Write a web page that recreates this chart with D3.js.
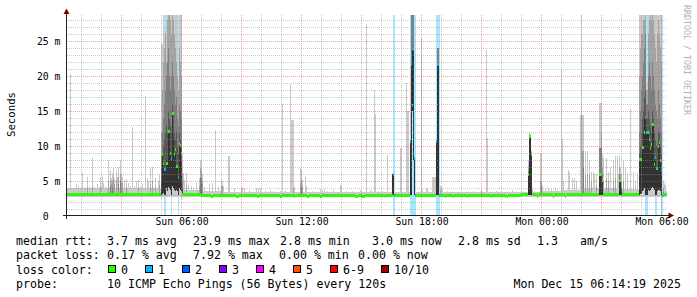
<!DOCTYPE html>
<html><head><meta charset="utf-8">
<script src="https://cdn.jsdelivr.net/npm/d3@7"></script>
<style>
html,body{margin:0;padding:0;background:#fff;}
svg{display:block;}
text{font-family:"DejaVu Sans Mono",monospace;white-space:pre;}
</style></head><body>
<svg id="chart" width="697" height="297"></svg>
<script>
// ================= DATA =================
// time in hours since Sun Dec 14 2025 00:00, one RRD row = 0.05 h (3 min)
const yTop = 28.714;                       // upper limit of the value axis (ms)
const yTickValues = [0, 5, 10, 15, 20, 25];
const smokeFloor = 2.8;                    // lowest ping level (ms)

// hourly baseline (hour 0 .. 30)
const baseMedian = [3.1,3.1,3.1,3.1,3.1,3.1, 3.1,3.05,3.05,3.05,3.0,3.0, 3.0,3.0,3.0,3.0,3.0,3.05,
                    3.05,3.05,3.05,3.05,3.05,3.1, 3.1,3.1,3.1,3.1,3.1,3.1,3.1];
const baseTop    = [4.0,4.0,4.1,4.1,4.1,4.0, 3.8,3.6,3.5,3.45,3.45,3.45, 3.45,3.45,3.45,3.45,3.45,3.45,
                    3.45,3.45,3.45,3.45,3.45,3.5, 3.7,3.8,4.0,4.0,3.9,3.7,3.6];
// short dips of the median
const dips = [[7.5,2.85],[7.55,2.85],[8.75,2.85],[8.8,2.85],[8.85,2.85],[9.8,2.85],[9.85,2.85],
  [10.95,2.85],[11.0,2.85],[11.65,2.85],[12.3,2.85],[12.35,2.85],[12.95,2.85],[13.0,2.85],
  [14.7,2.85],[14.75,2.85],[14.8,2.85],[15.05,2.85],[15.1,2.85],[15.15,2.85],[16.2,2.85],
  [19.2,2.85],[19.6,2.85],[20.3,2.85],[21.5,2.85],[22.2,2.85],[22.3,2.85],[23.8,2.85],[24.6,2.85],[25.2,2.85]];

// smoke-only spikes: [hour, top of pair1 (max ping), pair2, pair3, pair4, pair5]
const spikes = [
 [0.45,20.3],[0.55,4.0],[0.75,4.6],[0.85,4.3],[1.05,6.2],[1.15,4.2],[1.30,5.6,4.2],[1.40,4.4],
 [1.55,8.4,4.5],[1.65,4.2],[1.80,4.6],[1.95,5.6,4.4],[2.05,5.8],[2.10,4.8],[2.20,4.4],[2.35,8.0,5.0],
 [2.45,6.7,5.2,4.4],[2.50,5.5,4.8],[2.55,6.2,5.0,4.2],[2.60,6.9,5.6],[2.65,5.4,4.6],[2.75,6.6,5.2],
 [2.80,5.6],[2.85,7.0,5.6,4.6],[2.95,8.1,6.0,5.0],[3.00,6.0,4.8],[3.05,5.6,4.8],[3.15,5.2],
 [3.25,5.4,4.4],[3.35,4.8],[3.45,4.3],[3.55,12.8],[3.65,4.4],[3.75,5.0],[3.85,5.2,4.2],[3.95,4.2],
 [4.05,4.6],[4.20,17.2],[4.30,5.5],[4.35,5.0],[4.45,6.9,4.6],[4.55,7.1,5.0],[4.70,5.5,4.4],
 [4.85,5.0],[4.90,6.0,4.5],
 [6.10,6.2],[6.15,5.2],[6.25,6.2,4.5],[6.35,4.5],[6.50,4.4],[6.60,4.0],[6.75,4.8],[6.90,5.5,4.4],
 [6.95,8.0,6.9,5.5],[7.00,7.9,6.5,5.5,4.6],[7.05,6.0,5.0],[7.15,4.2],[7.40,4.6],[7.55,4.8],
 [7.70,12.4],[7.85,4.2],[8.00,5.3,4.3],[8.05,5.0,4.4],[8.10,4.3],[8.35,8.6],[8.40,8.6],[8.65,4.0],
 [9.00,4.0],[9.05,4.2],[9.15,4.0],[9.40,3.8],[9.75,4.0],[9.85,4.0],[9.95,4.0],[10.20,3.7],
 [10.45,3.8],[10.60,3.7],[10.95,3.6],[11.05,16.0],[11.20,3.8],[11.45,18.9],[11.50,13.8],
 [11.55,13.8],[11.60,13.8,4.0],[11.65,4.2],[11.95,6.9,4.8],[12.00,6.6,5.2,4.2],[12.05,5.2,4.3],
 [12.20,5.7],[12.25,4.4],[12.55,3.7],[12.95,3.9],[13.05,3.8],[13.15,3.9],[13.30,3.7],[13.60,3.8],
 [13.95,4.5],[14.00,4.4],[14.25,3.7],[14.55,3.6],[14.95,3.8],[15.25,27.5],[15.45,3.8],[15.50,3.7],
 [15.65,18.1],[15.70,14.6],[15.85,3.6],[16.05,3.7],[16.30,8.8],[16.45,3.5],
 [16.55,6.0,6.0,6.0,6.0,6.0],
 [16.95,9.8],[17.00,9.8],[17.25,19.0],[17.30,15.0],[17.35,15.0],
 [18.00,25.5],[18.05,3.8],[18.25,4.0],[18.30,3.9],[18.55,5.7],[18.60,5.7],[18.65,5.7],[18.70,5.7],
 [18.95,4.3,3.8],[19.00,4.3],[19.05,4.0],[19.30,3.6],[19.85,3.5],[19.95,3.5],[20.25,3.5],
 [20.60,3.6],[21.00,3.8,3.6],[21.25,23.8],[21.30,11.2],[21.75,3.6],[22.55,3.8],[23.00,3.6],
 [23.05,3.5],[23.55,4.0],[23.65,3.7],[23.95,9.0,5.0],[24.00,9.0,5.0,4.2],[24.05,4.5],[24.20,4.0],
 [24.35,4.0],[24.50,3.9],[24.70,4.0],[24.80,3.8],[25.00,21.0],[25.05,11.0],[25.10,5.0],
 [25.35,6.7],[25.40,6.4],[25.55,5.5],[25.65,5.5],[25.75,5.0],[25.95,14.5],[26.00,30,14.5],
 [26.05,14.5,9.3],[26.10,14.5,9.3,7.0],[26.20,9.3,6.0],[26.30,9.3,6.0],[26.40,8.0,6.0],
 [26.50,6.4,5.0],[26.60,6.4],[26.65,6.0],[26.75,6.0,4.5],[27.10,8.3,5.0],[27.25,8.3,5.5],
 [27.35,6.4,5.0],[27.45,7.0],[27.60,7.9,5.0],[27.70,8.6,5.5],[27.80,8.6],[27.85,6.0],
 [28.10,7.9,5.0],[28.20,7.0],[28.30,6.0],[28.45,15.5],[28.60,6.4],[28.70,5.0],[28.80,6.0],
 [30.15,4.8],[30.20,4.5]
];

// rows with a shifted median and/or lost pings:
// [hour, median, lost pings, top pair1..pair5, bottom pair1, bottom pairs2-5]
const bursts = [
 [5.00, 8.8,0, 24.6,12,9,7,5, 2.8,3.0],
 [5.05, 8.8,0, 24.6,18,12,9,8.8, 2.8,3.2],
 [5.10, 7.5,0, 30,22,14,10,7.5, 2.8,3.4],
 [5.15, 6.7,1, 26.7,24,16,11,6.7, 2.8,3.0],
 [5.20, 6.7,1, 26.7,26,18,12,7.0, 2.8,3.0],
 [5.25, 7.6,0, 30,22,20,13,8.0, 2.8,4.0],
 [5.30, 7.6,0, 30,28,22,12,8.0, 2.8,3.6],
 [5.35,12.1,0, 30,30,24,15,12.1, 2.8,4.2],
 [5.40,12.1,0, 30,30,20,14,12.1, 2.8,4.0],
 [5.45, 9.0,0, 30,28,18,13,9.0, 2.8,3.8],
 [5.50, 8.3,1, 30,26,20,12,8.3, 2.8,3.0],
 [5.55,14.7,0, 30,30,22,16,14.7, 2.8,4.4],
 [5.60,14.7,0, 30,28,20,15,11.0, 2.8,4.0],
 [5.65, 8.8,0, 30,26,18,12,8.8, 2.8,3.8],
 [5.70, 9.5,0, 30,24,16,11,9.0, 2.8,3.6],
 [5.75, 7.2,0, 30,22,17,12,7.2, 2.8,3.8],
 [5.80, 7.2,0, 30,20,14,10,7.2, 2.8,3.6],
 [5.85, 5.5,1, 19.5,18,13,9,5.5, 2.8,3.0],
 [5.90,10.4,0, 30,24,16,12,10.4, 2.8,4.0],
 [5.95,10.1,0, 30,22,15,11,10.1, 2.8,3.8],
 [6.00, 9.0,0, 30,20,14,10,8.0, 2.8,3.6],
 [6.05, 3.2,0, 9,6,5,4,3.5, 2.8,2.9],
 [16.60, 6.0,1, 6.0,6.0,6.0,6.0,6.0, 2.8,3.0],
 [16.65, 3.05,1, 3.0,3.0,3.0,3.0,3.0, 2.8,2.8],
 [17.45,10.7,1, 22,10.7,10.7,10.7,10.7, 2.8,3.0],
 [17.50,21.7,1, 30,30,30,21.7,21.7, 2.8,3.0],
 [17.55,15.9,1, 30,30,30,23.8,23.8, 15.0,15.0],
 [17.60,23.8,1, 30,30,30,23.8,23.8, 8.0,8.0],
 [17.65, 8.3,1, 8.3,8.3,8.3,8.3,8.3, 2.8,3.0],
 [17.70, 3.05,1, 3.0,3.0,3.0,3.0,3.0, 2.8,2.8],
 [18.75,10.7,1, 10.7,10.7,10.7,10.7,10.7, 2.8,3.0],
 [18.80,21.7,1, 24.1,24.1,24.1,21.7,21.7, 2.8,3.0],
 [18.85,21.7,1, 24.1,24.1,24.1,21.7,21.7, 2.8,3.0],
 [18.90, 3.05,1, 3.0,3.0,3.0,3.0,3.0, 2.8,2.8],
 [23.35, 6.0,0, 8,7,6.5,6.0,6.0, 2.8,3.0],
 [23.40,11.4,0, 12,11.8,11.6,11.4,11.4, 2.8,3.0],
 [23.45,11.4,0, 11.6,11.5,11.4,11.4,11.4, 2.8,3.0],
 [23.50, 8.8,0, 9.5,9.2,9.0,8.8,8.8, 2.8,3.0],
 [26.90, 6.0,0, 16.2,9.8,9.8,6.0,6.0, 2.8,3.0],
 [26.95, 6.0,0, 16.2,9.8,9.8,6.0,6.0, 2.8,3.0],
 [27.00, 6.0,0, 16.2,12,9.8,6.0,6.0, 2.8,3.0],
 [27.05, 5.1,0, 9.0,7.0,6.0,5.1,5.1, 2.8,3.0],
 [27.90, 5.1,0, 8.6,7.0,6.0,5.1,5.1, 2.8,3.0],
 [27.95, 5.1,0, 7.0,6.0,5.5,5.1,5.1, 2.8,3.0],
 [28.00, 4.4,0, 6.0,5.0,4.6,4.4,4.4, 2.8,3.0],
 [28.90, 8.1,0, 30,20,12,9,8.1, 2.8,3.0],
 [28.95, 8.1,0, 30,24,15,10,8.1, 2.8,3.2],
 [29.00, 8.1,0, 30,26,18,12,9, 2.8,3.4],
 [29.05, 9.8,0, 30,26,20,14,10, 2.8,3.6],
 [29.10, 9.8,0, 30,28,22,15,12, 2.8,3.8],
 [29.15,12.0,0, 30,28,24,17,14, 2.8,4.0],
 [29.20,14.1,1, 30,30,26,18,14.1, 2.8,3.0],
 [29.25,12.0,1, 19,18,16,14,12, 2.8,3.0],
 [29.30,12.0,1, 19,18,16,14,12, 2.8,3.0],
 [29.35,12.0,0, 30,26,20,15,12, 2.8,3.8],
 [29.40,11.0,0, 30,28,22,14,11, 2.8,3.6],
 [29.45, 9.7,0, 30,30,20,13,9.7, 2.8,3.8],
 [29.50,10.3,0, 30,28,18,12,10.3, 2.8,4.0],
 [29.55,13.1,0, 30,30,22,15,13.1, 2.8,4.2],
 [29.60,13.1,0, 30,28,20,14,13, 2.8,4.0],
 [29.65, 7.4,0, 30,26,18,12,8, 2.8,3.8],
 [29.70, 8.4,1, 30,24,16,11,8.4, 2.8,3.0],
 [29.75, 6.9,1, 30,22,15,10,6.9, 2.8,3.0],
 [29.80, 6.9,0, 30,26,14,10,7, 2.8,3.6],
 [29.85,10.0,0, 30,28,18,12,10, 2.8,3.8],
 [29.90,10.5,0, 30,26,16,12,10.5, 2.8,3.8],
 [29.95, 8.0,0, 30,24,14,10,8, 2.8,3.6],
 [30.00, 6.6,1, 30,22,12,9,6.6, 2.8,3.0],
 [30.05, 3.05,1, 3.0,3.0,3.0,3.0,3.0, 2.8,2.8],
 [30.10, 3.05,0, 5,4,3.5,3.2,3.1, 2.8,2.8]
];

const lossLabels = ["0","1","2","3","4","5","6-9","10/10"];
const lossColors = ["#26ff00","#00b8ff","#0059ff","#7e00ff","#ff00ff","#ff5500","#ff0000","#a10000"];
const smokeColors = ["#cacaca","#a4a4a4","#7e7e7e","#585858","#323232"];

const legendMedian = ["median rtt:","3.7 ms avg","23.9 ms max","2.8 ms min","3.0 ms now","2.8 ms sd","1.3","am/s"];
const legendLoss = ["packet loss:","0.17 % avg","7.92 % max","0.00 % min","0.00 % now"];
const legendColorTitle = "loss color:";
const legendProbe = ["probe:","10 ICMP Echo Pings (56 Bytes) every 120s"];
const legendDate = "Mon Dec 15 06:14:19 2025";
const yLabel = "Seconds";
const watermark = "RRDTOOL / TOBI OETIKER";

// ================= LAYOUT =================
const svg = d3.select("#chart");
const plotL = 67, plotR = 667, plotT = 15, plotB = 215;
const baseMs = new Date(2025, 11, 14, 0, 0, 0).getTime();
const t = h => new Date(baseMs + h * 3600e3);
const xs = d3.scaleTime().domain([t(0.25), t(30.25)]).range([66.5, 666.5]);
const ys = d3.scaleLinear().domain([0, yTop]).range([216.5, 15.5]);

svg.append("rect").attr("width", 697).attr("height", 297).attr("fill", "#fff");
svg.append("defs").append("clipPath").attr("id", "plot")
  .append("rect").attr("x", plotL).attr("y", plotT).attr("width", plotR - plotL).attr("height", plotB - plotT);

// build rows
const burstMap = new Map(bursts.map(r => [Math.round(r[0] * 20), r]));
const spikeMap = new Map(spikes.map(r => [Math.round(r[0] * 20), r]));
const dipMap = new Map(dips.map(r => [Math.round(r[0] * 20), r[1]]));
const lossBucket = l => l <= 5 ? l : (l < 10 ? 6 : 7);
const rows = [];
for (let k = 6; k <= 605; k++) {
  const h = k / 20, hr = Math.min(30, Math.floor(h));
  let med = dipMap.has(k) ? dipMap.get(k) : baseMedian[hr];
  let loss = 0, hi, lo;
  if (burstMap.has(k)) {
    const r = burstMap.get(k);
    med = r[1]; loss = r[2]; hi = r.slice(3, 8); lo = [r[8], r[9], r[9], r[9], r[9]];
  } else {
    hi = [baseTop[hr], med, med, med, med];
    lo = [smokeFloor, med, med, med, med];
    const s = spikeMap.get(k);
    if (s) for (let i = 1; i < s.length; i++) {
      hi[i - 1] = Math.max(hi[i - 1], s[i]);
      if (i > 1) lo[i - 1] = smokeFloor + 0.2;
    }
  }
  rows.push({h, med, loss, hi, lo});
}

const plot = svg.append("g").attr("clip-path", "url(#plot)").attr("shape-rendering", "crispEdges");
const colX = d => xs(t(d.h)) - 0.5;

// loss background
plot.append("g").selectAll("rect").data(rows.filter(d => d.loss > 0)).join("rect")
  .attr("x", colX).attr("width", 1).attr("y", plotT).attr("height", plotB - plotT)
  .attr("fill", d => lossColors[lossBucket(d.loss)]).attr("fill-opacity", 0.35);

// smoke
smokeColors.forEach((c, i) => {
  plot.append("g").selectAll("rect")
    .data(rows.filter(d => d.hi[i] > d.lo[i]))
    .join("rect")
    .attr("x", colX).attr("width", 1)
    .attr("y", d => ys(d.hi[i])).attr("height", d => ys(d.lo[i]) - ys(d.hi[i]))
    .attr("fill", c);
});

// median band coloured by loss
plot.append("g").selectAll("rect").data(rows).join("rect")
  .attr("x", colX).attr("width", 1)
  .attr("y", d => ys(d.med) - 1.5).attr("height", 3)
  .attr("fill", d => lossColors[lossBucket(d.loss)]);

// grid (on top, semi transparent)
const grid = svg.append("g").attr("shape-rendering", "crispEdges").attr("stroke-dasharray", "1,1");
const hours = d3.timeHour.every(1).range(t(0.25), t(30.25));
grid.selectAll("line.vx").data(hours).join("line")
  .attr("x1", d => xs(d)).attr("x2", d => xs(d)).attr("y1", plotT).attr("y2", plotB)
  .attr("stroke", d => d.getHours() % 3 === 0 ? "rgba(222,80,80,0.5)" : "rgba(150,150,150,0.5)");
grid.selectAll("line.hy").data(d3.range(1, Math.floor(yTop) + 1)).join("line")
  .attr("x1", plotL).attr("x2", plotR).attr("y1", d => ys(d)).attr("y2", d => ys(d))
  .attr("stroke", d => d % 5 === 0 ? "rgba(222,80,80,0.5)" : "rgba(150,150,150,0.5)");

// axes lines and arrows
const ax = svg.append("g").attr("shape-rendering", "crispEdges");
ax.append("line").attr("x1", 66.5).attr("x2", 66.5).attr("y1", 219).attr("y2", 11).attr("stroke", "#222");
ax.append("line").attr("x1", 63).attr("x2", 670).attr("y1", 215.5).attr("y2", 215.5).attr("stroke", "#222");
svg.append("path").attr("d", "M66.5,8.5L63.5,14L69.5,14Z").attr("fill", "#7f0000");
svg.append("path").attr("d", "M674,215.5L668.5,212.5L668.5,218.5Z").attr("fill", "#7f0000");

// x axis labels
const xAxis = d3.axisBottom(xs).ticks(d3.timeHour.every(6))
  .tickFormat(d3.timeFormat("%a %H:%M")).tickSize(0).tickPadding(0);
const gx = svg.append("g").attr("transform", "translate(0,218)").call(xAxis);
gx.select(".domain").remove();
gx.selectAll("text").attr("font-family", "DejaVu Sans Mono").attr("font-size", "9.8px").attr("fill", "#000");

// y axis labels
const yAxis = d3.axisLeft(ys).tickValues(yTickValues)
  .tickFormat(v => v === 0 ? "0  " : v + " m").tickSize(0).tickPadding(0);
const gy = svg.append("g").attr("transform", "translate(60.5,0)").call(yAxis);
gy.select(".domain").remove();
gy.selectAll("text").attr("font-family", "DejaVu Sans Mono").attr("font-size", "9.8px").attr("fill", "#000")
  .style("white-space", "pre");

// y title
svg.append("text").attr("transform", "translate(11,114.5) rotate(-90)")
  .attr("text-anchor", "middle").attr("dominant-baseline", "central")
  .attr("font-size", "10.7px").attr("fill", "#000").text(yLabel);

// watermark
svg.append("text").attr("transform", "translate(686.5,5) rotate(90)")
  .attr("dominant-baseline", "central").attr("font-size", "8.3px").attr("fill", "#b0b0b0").text(watermark);

// legend
const lf = "11.6px";
const row1X = [16, 107, 193, 280, 372, 458, 537, 580];
const row2X = [16, 107, 193, 279, 358];
const lg = svg.append("g").attr("font-size", lf).attr("fill", "#000");
lg.selectAll("text.r1").data(legendMedian).join("text").attr("class", "r1")
  .attr("x", (d, i) => row1X[i]).attr("y", 244.5).text(d => d);
lg.selectAll("text.r2").data(legendLoss).join("text").attr("class", "r2")
  .attr("x", (d, i) => row2X[i]).attr("y", 259).text(d => d);
lg.append("text").attr("x", 16).attr("y", 273.5).text(legendColorTitle);
let bx = 108;
lossLabels.forEach((lab, i) => {
  lg.append("rect").attr("x", bx + 0.5).attr("y", 265.5).attr("width", 7).attr("height", 7)
    .attr("fill", lossColors[i]).attr("stroke", "#000").attr("stroke-width", 1).attr("shape-rendering", "crispEdges");
  lg.append("text").attr("x", bx + 13).attr("y", 273.5).text(lab);
  bx = bx + 13 + lab.length * 7 + 17;
});
lg.append("text").attr("x", 16).attr("y", 288).text(legendProbe[0]);
lg.append("text").attr("x", 107).attr("y", 288).text(legendProbe[1]);
lg.append("text").attr("x", 681).attr("y", 288).attr("text-anchor", "end").text(legendDate);
</script>
</body></html>
